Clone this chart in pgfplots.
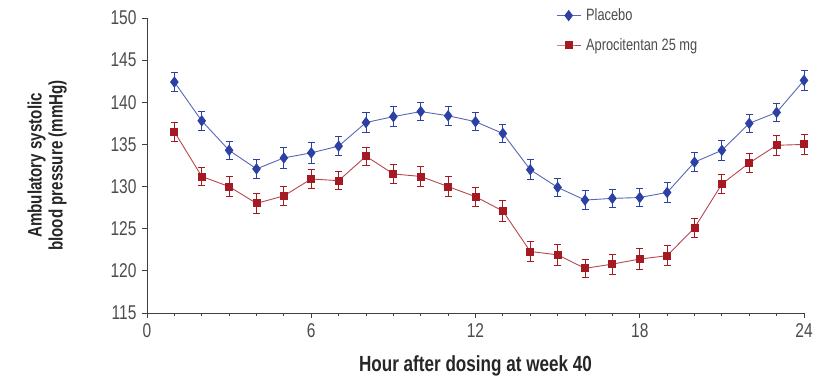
\documentclass[border=0pt]{standalone}
\usepackage{fontspec}
\setmainfont{Liberation Sans}[FakeStretch=0.78]
\usepackage{pgfplots}
\usepackage{pgfplotstable}
\pgfplotsset{compat=1.18}
\definecolor{pblue}{RGB}{45,65,165}
\definecolor{pred}{RGB}{165,25,35}
\pgfplotstableread{
h  y     e
1  142.4 1.1
2  137.8 1.1
3  134.3 1.1
4  132.1 1.1
5  133.4 1.2
6  134.0 1.2
7  134.8 1.1
8  137.6 1.2
9  138.3 1.2
10 138.9 1.1
11 138.4 1.1
12 137.7 1.1
13 136.3 1.1
14 132.0 1.2
15 129.9 1.1
16 128.4 1.1
17 128.6 1.1
18 128.7 1.1
19 129.3 1.2
20 132.9 1.1
21 134.3 1.2
22 137.5 1.1
23 138.8 1.1
24 142.6 1.2
}\placebo
\pgfplotstableread{
h  y     e
1  136.5 1.1
2  131.2 1.1
3  130.0 1.2
4  128.0 1.2
5  128.9 1.1
6  130.9 1.1
7  130.7 1.1
8  133.6 1.1
9  131.5 1.1
10 131.2 1.2
11 130.0 1.2
12 128.8 1.1
13 127.1 1.2
14 122.3 1.2
15 121.9 1.2
16 120.3 1.1
17 120.8 1.2
18 121.4 1.2
19 121.8 1.2
20 125.1 1.1
21 130.3 1.1
22 132.8 1.1
23 134.9 1.2
24 135.0 1.2
}\aproc
\begin{document}
\begin{tikzpicture}
\begin{axis}[name=ax,
  scale only axis, width=657bp, height=295bp,
  xmin=0, xmax=24, ymin=115, ymax=150,
  axis x line*=bottom, axis y line*=left,
  axis line style={black!75, line width=0.9pt},
  xtick={0,6,12,18,24}, minor xtick={1,...,23},
  ytick={115,120,...,150},
  tick align=outside,
  major tick length=5bp, minor tick length=3bp,
  tick style={black!75, line width=0.9pt},
  /pgf/number format/assume math mode=true,
  ticklabel style={font=\fontsize{20}{20}\selectfont, text=black!70},
  yticklabel style={xshift=-2bp},
  xticklabel style={yshift=-2bp},
  xlabel={\textbf{Hour after dosing at week 40}},
  xlabel style={font=\fontsize{22}{22}\selectfont, text=black!85, at={(axis description cs:0.5,-0.18)}, anchor=center},
  ylabel={\textbf{Ambulatory systolic}\\\textbf{blood pressure (mmHg)}},
  ylabel style={font=\fontsize{19.5}{21}\selectfont, text=black!85, align=center, at={(axis description cs:-0.152,0.5)}, anchor=center},
  legend style={at={(axis description cs:0.618,1.045)}, anchor=north west, draw=none, fill=none,
    font=\fontsize{16.5}{16.5}\selectfont, text=black!70, row sep=12bp, column sep=3bp},
  legend cell align=left,
  legend image code/.code={\draw[mark repeat=2,mark phase=2,#1] plot coordinates {(0bp,0bp)(12bp,0bp)(24bp,0bp)};},
  clip=false,
]
\addplot[pblue!80, line width=0.9pt, mark=diamond*, mark size=5bp, mark options={fill=pblue, draw=pblue},
  error bars/.cd, y dir=both, y explicit, error bar style={pblue, line width=0.9pt}, error mark options={pblue, rotate=90, mark size=3.5bp, line width=0.9pt}]
  table[x=h, y=y, y error=e]{\placebo};
\addlegendentry{Placebo}
\addplot[pred!80, line width=0.9pt, mark=square*, mark size=3.5bp, mark options={fill=pred, draw=pred},
  error bars/.cd, y dir=both, y explicit, error bar style={pred, line width=0.9pt}, error mark options={pred, rotate=90, mark size=3.5bp, line width=0.9pt}]
  table[x=h, y=y, y error=e]{\aproc};
\addlegendentry{Aprocitentan 25 mg}
\end{axis}
\pgfresetboundingbox
\path (ax.south west) ++(-147bp,-69bp) rectangle ++(820bp,382bp);
\end{tikzpicture}
\end{document}
